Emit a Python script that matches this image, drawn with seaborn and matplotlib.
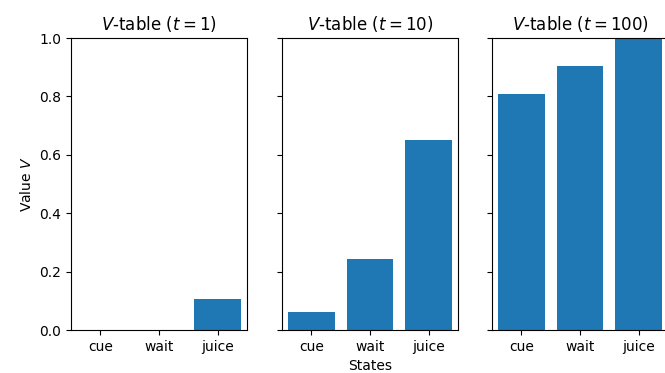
import matplotlib
matplotlib.use("Agg")
import matplotlib.pyplot as plt
import seaborn as sns
import pandas as pd

states = ["cue", "wait", "juice"]
times = [1, 10, 100]
values_t1 = [0.0, 0.0, 0.105]
values_t10 = [0.06, 0.242, 0.651]
values_t100 = [0.808, 0.903, 1.0]
all_values = [values_t1, values_t10, values_t100]

DPI = 100
W, H = 665, 373
fig = plt.figure(figsize=(W / DPI, H / DPI), dpi=DPI)

# axes boxes in pixels
lefts = [71, 282, 492]
ax_w = 176
bottom_px, top_px = 330, 38
for i, (t, vals) in enumerate(zip(times, all_values)):
    ax = fig.add_axes([lefts[i] / W, (H - bottom_px) / H, ax_w / W, (bottom_px - top_px) / H])
    df = pd.DataFrame({"state": states, "V": vals})
    sns.barplot(data=df, x="state", y="V", order=states, color="#1f77b4",
                saturation=1, ax=ax, width=0.8)
    ax.set_ylim(0, 1.0)
    ax.set_xlim(-0.5, 2.5)
    ax.set_title(rf"$V$-table ($t={t}$)")
    ax.set_yticks([0.0, 0.2, 0.4, 0.6, 0.8, 1.0])
    if i == 0:
        ax.set_ylabel(r"Value $V$")
    else:
        ax.set_ylabel("")
        ax.set_yticklabels([])
    ax.set_xlabel("States" if i == 1 else "")

fig.savefig("out.png", dpi=DPI)
